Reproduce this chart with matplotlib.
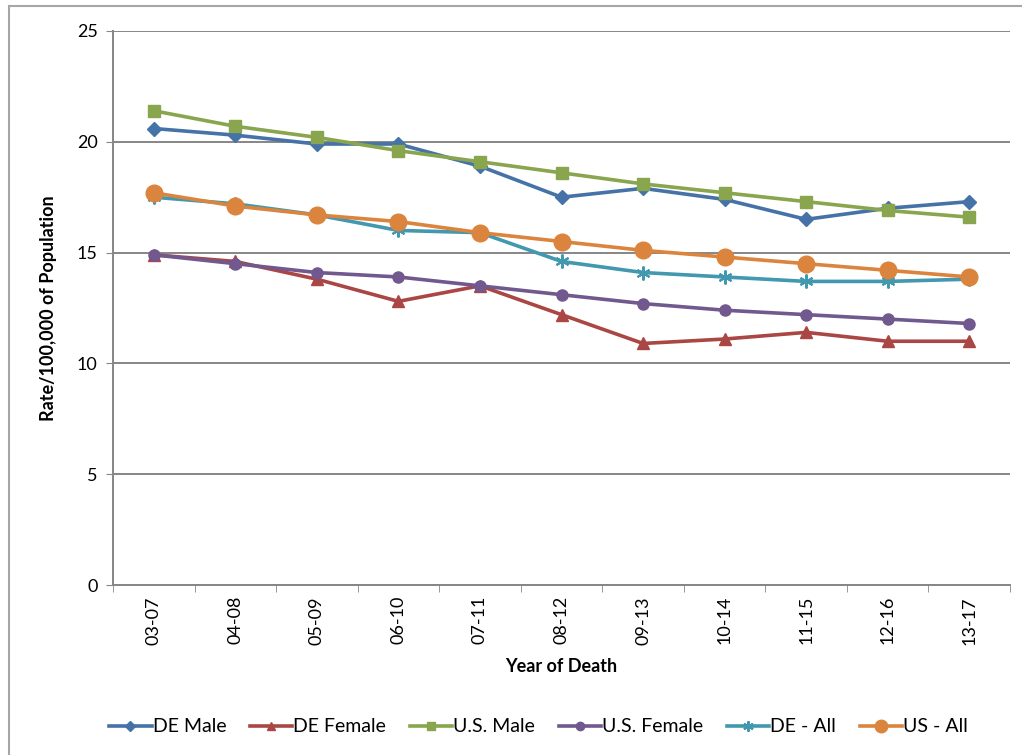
import numpy as np
import matplotlib
matplotlib.use('Agg')
import matplotlib.pyplot as plt
from matplotlib.patches import Rectangle

plt.rcParams['font.family'] = ['Lato', 'DejaVu Sans']

periods = ['03-07', '04-08', '05-09', '06-10', '07-11', '08-12',
           '09-13', '10-14', '11-15', '12-16', '13-17']

de_male = [20.6, 20.3, 19.9, 19.9, 18.9, 17.5, 17.9, 17.4, 16.5, 17.0, 17.3]
de_female = [14.9, 14.6, 13.8, 12.8, 13.5, 12.2, 10.9, 11.1, 11.4, 11.0, 11.0]
us_male = [21.4, 20.7, 20.2, 19.6, 19.1, 18.6, 18.1, 17.7, 17.3, 16.9, 16.6]
us_female = [14.9, 14.5, 14.1, 13.9, 13.5, 13.1, 12.7, 12.4, 12.2, 12.0, 11.8]
de_all = [17.5, 17.2, 16.7, 16.0, 15.9, 14.6, 14.1, 13.9, 13.7, 13.7, 13.8]
us_all = [17.7, 17.1, 16.7, 16.4, 15.9, 15.5, 15.1, 14.8, 14.5, 14.2, 13.9]

fig = plt.figure(figsize=(10.22, 7.55), dpi=100)
ax = fig.add_axes([113/1022, 1 - 585/755, (1010-113)/1022, (585-31)/755])

# outer chart frame
fig.patches.append(Rectangle((9/1022, -0.05), 1.2, 1 - 6/755 + 0.05,
                             transform=fig.transFigure, fill=False,
                             edgecolor='#a6a6a6', linewidth=1.5))

x = np.arange(len(periods))
lw = 2.6
ax.plot(x, de_male, '-', color='#4572A7', lw=lw, marker='D', ms=7, label='DE Male')
ax.plot(x, de_female, '-', color='#AA4643', lw=lw, marker='^', ms=8, label='DE Female')
ax.plot(x, us_male, '-', color='#89A54E', lw=lw, marker='s', ms=8, label='U.S. Male')
ax.plot(x, us_female, '-', color='#71588F', lw=lw, marker='o', ms=8, label='U.S. Female')
ax.plot(x, de_all, '-', color='#4198AF', lw=lw, marker=(6, 2, 0), ms=10, mew=1.5, label='DE - All')
ax.plot(x, us_all, '-', color='#DB843D', lw=lw, marker='o', ms=12, label='US - All')

ax.set_xlim(-0.5, len(periods) - 0.5)
ax.set_ylim(0, 25)
ax.set_yticks([0, 5, 10, 15, 20, 25])
ax.set_xticks(x)
ax.set_xticklabels(periods, rotation=90)
ax.grid(True, axis='y', color='#868686', lw=1.4)
ax.set_axisbelow(True)
for s in ['top', 'right']:
    ax.spines[s].set_visible(False)
ax.spines['left'].set_color('#868686')
ax.spines['bottom'].set_color('#868686')
ax.spines['left'].set_linewidth(1.4)
ax.spines['bottom'].set_linewidth(1.4)
ax.tick_params(axis='y', length=5, color='#868686', labelsize=13, pad=6)
ax.tick_params(axis='x', length=5, color='#868686', labelsize=13, pad=8)
ax.set_xticks(np.arange(len(periods) + 1) - 0.5, minor=True)
ax.tick_params(axis='x', which='major', length=0)
ax.tick_params(axis='x', which='minor', length=5, color='#868686')

ax.set_xlabel('Year of Death', fontsize=13, fontweight='bold', labelpad=10)
ax.set_ylabel('Rate/100,000 of Population', fontsize=13, fontweight='bold', labelpad=14)

fig.legend(loc='center', bbox_to_anchor=(0.527, 1 - 727/755), ncol=6,
           frameon=False, fontsize=14, handlelength=2.2, columnspacing=1.2,
           handletextpad=0.05, markerscale=0.75)

fig.savefig('out.png', dpi=100)
